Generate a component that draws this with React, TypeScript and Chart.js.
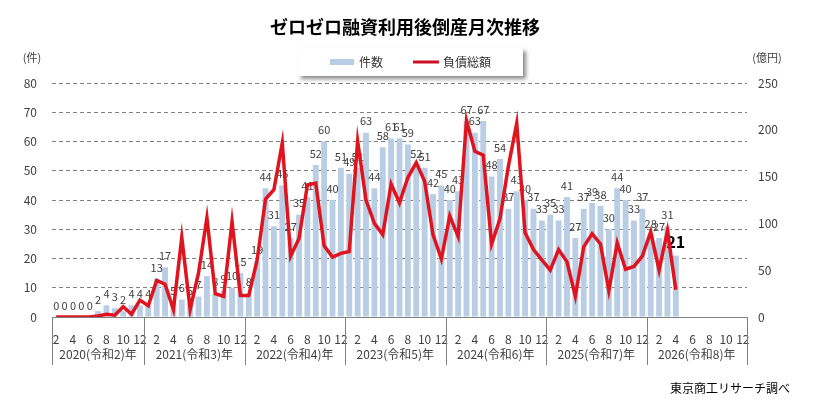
import React, { useEffect, useRef } from 'react';
import { Chart, registerables } from 'chart.js';

Chart.register(...registerables);

const FONT = '"Noto Sans CJK JP", "Noto Sans", sans-serif';

// Years shown on the axis and the first month of each year in the data
const yearLabels = ['2020(令和2)年', '2021(令和3)年', '2022(令和4)年', '2023(令和5)年', '2024(令和6)年', '2025(令和7)年', '2026(令和8)年'];
const yearFirstMonth = [2, 1, 1, 1, 1, 1, 1];

// 件数 (bars, left axis)
const counts2020 = [0, 0, 0, 0, 0, 2, 4, 3, 2, 4, 4];
const counts2021 = [4, 13, 17, 5, 6, 5, 7, 14, 8, 9, 10, 15];
const counts2022 = [8, 19, 44, 31, 45, 27, 35, 41, 52, 60, 40, 51];
const counts2023 = [49, 51, 63, 44, 58, 61, 61, 59, 52, 51, 42, 45];
const counts2024 = [40, 43, 67, 63, 67, 48, 54, 37, 43, 40, 37, 33];
const counts2025 = [35, 33, 41, 27, 37, 39, 38, 30, 44, 40, 33, 37];
const counts2026 = [28, 27, 31, 21, null, null, null, null, null, null, null, null];

// 負債総額 (line, right axis, 億円)
const debt2020 = [0, 0, 0, 0, 0, 1, 3, 2, 11, 3, 18];
const debt2021 = [12, 39, 35, 8, 85, 8, 47, 106, 25, 22, 102, 23];
const debt2022 = [23, 61, 126, 136, 186, 65, 84, 141, 143, 76, 64, 68];
const debt2023 = [70, 188, 125, 100, 88, 142, 122, 149, 165, 145, 88, 62];
const debt2024 = [108, 86, 210, 177, 173, 78, 105, 161, 207, 90, 72, 61];
const debt2025 = [50, 72, 59, 22, 75, 89, 78, 28, 79, 51, 54, 65];
const debt2026 = [91, 50, 92, 29, null, null, null, null, null, null, null, null];

const leftTicks = { min: 0, max: 80, step: 10 };
const rightTicks = { min: 0, max: 250, step: 50 };

const seriesCounts: (number | null)[] = [
  ...counts2020, ...counts2021, ...counts2022, ...counts2023, ...counts2024, ...counts2025, ...counts2026,
];
const seriesDebt: (number | null)[] = [
  ...debt2020, ...debt2021, ...debt2022, ...debt2023, ...debt2024, ...debt2025, ...debt2026,
];

const categories: string[] = [];
const yearStartIndex: number[] = [];
yearLabels.forEach((_, yi) => {
  yearStartIndex.push(categories.length);
  for (let m = yearFirstMonth[yi]; m <= 12; m++) categories.push(String(m));
});
yearStartIndex.push(categories.length);

const lastValueIndex = seriesCounts.reduce((acc: number, v, i) => (v != null ? i : acc), -1);

const decorPlugin = {
  id: 'decor',
  beforeDraw(chart: any) {
    const ctx = chart.ctx;
    ctx.save();
    ctx.fillStyle = '#ffffff';
    ctx.fillRect(0, 0, chart.width, chart.height);
    ctx.restore();
  },
  afterDatasetDraw(chart: any, args: any) {
    if (args.index !== 0) return;
    const ctx = chart.ctx;
    ctx.save();
    ctx.textAlign = 'center';
    ctx.textBaseline = 'middle';
    args.meta.data.forEach((bar: any, i: number) => {
      const v = seriesCounts[i];
      if (v == null) return;
      if (i === lastValueIndex) {
        ctx.font = `bold 16px ${FONT}`;
        ctx.fillStyle = '#000000';
        ctx.fillText(String(v), bar.x, bar.y - 14);
      } else {
        ctx.font = `11px ${FONT}`;
        ctx.fillStyle = '#404040';
        ctx.fillText(String(v), bar.x, bar.y - 11.5);
      }
    });
    ctx.restore();
  },
  afterDraw(chart: any) {
    const ctx = chart.ctx;
    const xs = chart.scales.x;
    const area = chart.chartArea;
    ctx.save();

    // Title
    ctx.fillStyle = '#000000';
    ctx.font = `bold 18px ${FONT}`;
    ctx.textAlign = 'center';
    ctx.textBaseline = 'middle';
    ctx.fillText('ゼロゼロ融資利用後倒産月次推移', 405, 27);

    // Legend box with shadow
    ctx.save();
    ctx.shadowColor = 'rgba(0,0,0,0.45)';
    ctx.shadowBlur = 4;
    ctx.shadowOffsetX = 3;
    ctx.shadowOffsetY = 3;
    ctx.fillStyle = '#ffffff';
    ctx.fillRect(298, 48, 225, 28);
    ctx.restore();
    ctx.fillStyle = '#b9cde5';
    ctx.fillRect(330, 59, 24, 6);
    ctx.strokeStyle = '#cc1122';
    ctx.lineWidth = 3;
    ctx.beginPath();
    ctx.moveTo(413, 62);
    ctx.lineTo(439, 62);
    ctx.stroke();
    ctx.fillStyle = '#333333';
    ctx.font = `12px ${FONT}`;
    ctx.textAlign = 'left';
    ctx.fillText('件数', 359, 62);
    ctx.fillText('負債総額', 443, 62);

    // Axis units
    ctx.font = `11px ${FONT}`;
    ctx.fillStyle = '#404040';
    ctx.textAlign = 'center';
    ctx.fillText('(件)', 32, 58);
    ctx.fillText('(億円)', 767, 58);

    // Year separators and labels
    const n = categories.length;
    const cw = (xs.right - xs.left) / n;
    ctx.strokeStyle = '#808080';
    ctx.lineWidth = 1;
    yearStartIndex.forEach((idx) => {
      const x = Math.round(xs.left + cw * idx) + 0.5;
      ctx.beginPath();
      ctx.moveTo(x, area.bottom);
      ctx.lineTo(x, area.bottom + 48);
      ctx.stroke();
    });
    ctx.font = `12px ${FONT}`;
    ctx.fillStyle = '#404040';
    yearLabels.forEach((label, yi) => {
      const x0 = xs.left + cw * yearStartIndex[yi];
      const x1 = xs.left + cw * yearStartIndex[yi + 1];
      ctx.fillText(label, (x0 + x1) / 2, area.bottom + 37);
    });

    // Source
    ctx.font = `12px ${FONT}`;
    ctx.fillStyle = '#000000';
    ctx.textAlign = 'right';
    ctx.fillText('東京商工リサーチ調べ', 790, 388);

    ctx.restore();
  },
};

export default function App() {
  const canvasRef = useRef<HTMLCanvasElement | null>(null);

  useEffect(() => {
    document.body.style.margin = '0';
    const canvas = canvasRef.current;
    if (!canvas) return;
    const chart = new Chart(canvas, {
      type: 'bar',
      data: {
        labels: categories,
        datasets: [
          {
            type: 'bar',
            label: '件数',
            data: seriesCounts,
            backgroundColor: '#b9cde5',
            barPercentage: 0.7,
            categoryPercentage: 1.0,
            yAxisID: 'y',
            order: 2,
          },
          {
            type: 'line',
            label: '負債総額',
            data: seriesDebt,
            borderColor: '#e0141e',
            borderWidth: 3.5,
            pointRadius: 0,
            tension: 0,
            fill: false,
            yAxisID: 'y1',
            order: 1,
          },
        ],
      } as any,
      options: {
        responsive: false,
        animation: false,
        devicePixelRatio: 1,
        layout: { padding: { top: 83, left: 0, right: 0, bottom: 0 } },
        plugins: {
          legend: { display: false },
          title: { display: false },
          tooltip: { enabled: false },
        },
        scales: {
          x: {
            offset: true,
            grid: { display: false },
            border: { display: true, color: '#808080', width: 1 },
            ticks: {
              autoSkip: false,
              maxRotation: 0,
              minRotation: 0,
              padding: 7,
              color: '#404040',
              font: { family: FONT, size: 12 },
              callback: (_v: any, i: number) => {
                const m = Number(categories[i]);
                return m % 2 === 0 ? String(m) : '';
              },
            },
            afterFit: (scale: any) => {
              scale.height = 91;
            },
          },
          y: {
            position: 'left',
            min: leftTicks.min,
            max: leftTicks.max,
            ticks: {
              stepSize: leftTicks.step,
              padding: 15,
              color: '#404040',
              font: { family: FONT, size: 12 },
            },
            grid: {
              drawTicks: false,
              color: (c: any) => (c.tick && c.tick.value === 0 ? 'rgba(0,0,0,0)' : '#808080'),
              lineWidth: 1,
            },
            border: { display: false, dash: [4, 3] },
            afterFit: (scale: any) => {
              scale.width = 52;
            },
          },
          y1: {
            position: 'right',
            min: rightTicks.min,
            max: rightTicks.max,
            ticks: {
              stepSize: rightTicks.step,
              padding: 11,
              color: '#404040',
              font: { family: FONT, size: 12 },
            },
            grid: { display: false, drawTicks: false },
            border: { display: false },
            afterFit: (scale: any) => {
              scale.width = 67;
            },
          },
        },
      } as any,
      plugins: [decorPlugin],
    });
    return () => chart.destroy();
  }, []);

  return (
    <div style={{ width: 814, height: 408 }}>
      <canvas ref={canvasRef} width={814} height={408} style={{ display: 'block' }} />
    </div>
  );
}
